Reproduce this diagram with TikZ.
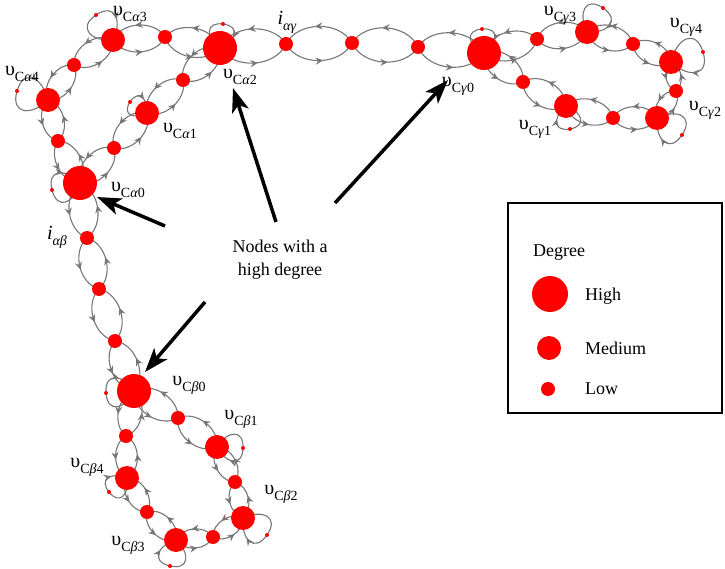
\documentclass[tikz,border=0pt]{standalone}
\usepackage{fontspec}
\setmainfont{Liberation Serif}
\usetikzlibrary{arrows.meta,decorations.markings}
\pgfdeclarelayer{bg}
\pgfsetlayers{bg,main}
\definecolor{edgegray}{RGB}{118,118,118}
\tikzset{
  hi/.style={circle,fill=red,inner sep=0pt,minimum size=34pt},
  me/.style={circle,fill=red,inner sep=0pt,minimum size=24pt},
  lo/.style={circle,fill=red,inner sep=0pt,minimum size=14pt},
  tipdot/.style={circle,fill=red,inner sep=0pt,minimum size=4pt},
  edge/.style={draw=edgegray,line width=1.1pt,postaction={decorate},
    decoration={markings,mark=at position 0.55 with {\arrow{Stealth[length=7.5pt,width=7pt,inset=2.5pt]}}}},
  lbl/.style={font=\fontsize{20}{22}\selectfont,inner sep=0pt},
  txt/.style={font=\fontsize{18}{23}\selectfont,inner sep=0pt},
  bigarrow/.style={line width=3.5pt,-{Stealth[length=24pt,width=17pt,inset=6pt]}},
}
\newcommand\vlab[2]{υ\raisebox{-6pt}{\fontsize{14}{14}\selectfont C\textit{#1}#2}}
\newcommand\ilab[1]{\textit{i}\raisebox{-6pt}{\fontsize{14}{14}\selectfont\textit{#1}}}
\newcommand\lens[2]{%
  \draw[edge] (#1.center) to[bend right=62] (#2.center);
  \draw[edge] (#2.center) to[bend right=62] (#1.center);}
\newcommand\selfloop[3]{%
  \pgfmathsetmacro\mySLa{#3+60}\pgfmathsetmacro\mySLb{#3+90}%
  \pgfmathsetmacro\mySLc{#3-90}\pgfmathsetmacro\mySLd{#3-60}%
  \draw[draw=edgegray,line width=1.1pt] (#1.center) to[out=\mySLa,in=\mySLb,looseness=1.9] (#2.center);
  \draw[edge] (#2.center) to[out=\mySLc,in=\mySLd,looseness=1.9] (#1.center);}
\begin{document}
\begin{tikzpicture}[x=1pt,y=1pt]
\useasboundingbox (0,0) rectangle (725,568);
% alpha cluster
\node[hi] (a0) at (80,385) {};
\node[me] (a1) at (147,455) {};
\node[hi] (a2) at (220,520) {};
\node[me] (a3) at (113,528) {};
\node[me] (a4) at (48,468) {};
\node[lo] (s01) at (114,420) {};
\node[lo] (s12) at (183,488) {};
\node[lo] (s32) at (165,531) {};
\node[lo] (s43) at (74,503) {};
\node[lo] (s04) at (58,427) {};
% top chain
\node[lo] (iag) at (286,524) {};
\node[lo] (t2) at (352,525) {};
\node[lo] (t3) at (418,521) {};
% gamma cluster
\node[hi] (g0) at (484,515) {};
\node[lo] (sg03) at (537,529) {};
\node[me] (g3) at (587,536) {};
\node[lo] (sg34) at (633,524) {};
\node[me] (g4) at (671,506) {};
\node[lo] (sg42) at (676,477) {};
\node[me] (g2) at (657,450) {};
\node[lo] (sg21) at (613,450) {};
\node[me] (g1) at (566,462) {};
\node[lo] (sg10) at (523,486) {};
% beta chain
\node[lo] (iab) at (87,330) {};
\node[lo] (m1) at (99,279) {};
\node[lo] (m2) at (115,227) {};
% beta cluster
\node[hi] (b0) at (134,177) {};
\node[lo] (sb01) at (178,150) {};
\node[me] (b1) at (217,121) {};
\node[lo] (sb12) at (235,86) {};
\node[me] (b2) at (243,50) {};
\node[lo] (sb23) at (213,31) {};
\node[me] (b3) at (176,28) {};
\node[lo] (sb34) at (147,56) {};
\node[me] (b4) at (127,90) {};
\node[lo] (sb40) at (126,132) {};
% loop tips
\node[tipdot] (ta3) at (96,553) {};
\node[tipdot] (ta4) at (17,477) {};
\node[tipdot] (ta1) at (130,466) {};
\node[tipdot] (ta0) at (52,378) {};
\node[tipdot] (ta2) at (223,544) {};
\node[tipdot] (tg0) at (482,539) {};
\node[tipdot] (tg3) at (603,560) {};
\node[tipdot] (tg4) at (703,516) {};
\node[tipdot] (tg2) at (682,433) {};
\node[tipdot] (tg1) at (570,439) {};
\node[tipdot] (tb0) at (106,175) {};
\node[tipdot] (tb1) at (243,120) {};
\node[tipdot] (tb4) at (109,76) {};
\node[tipdot] (tb2) at (267,33) {};
\node[tipdot] (tb3) at (170,2) {};
\begin{pgfonlayer}{bg}
\lens{a0}{s01}\lens{s01}{a1}\lens{a1}{s12}\lens{s12}{a2}\lens{a2}{s32}
\lens{s32}{a3}\lens{a3}{s43}\lens{s43}{a4}\lens{a4}{s04}\lens{s04}{a0}
\lens{a2}{iag}\lens{iag}{t2}\lens{t2}{t3}\lens{t3}{g0}
\lens{g0}{sg03}\lens{sg03}{g3}\lens{g3}{sg34}\lens{sg34}{g4}\lens{g4}{sg42}
\lens{sg42}{g2}\lens{g2}{sg21}\lens{sg21}{g1}\lens{g1}{sg10}\lens{sg10}{g0}
\lens{a0}{iab}\lens{iab}{m1}\lens{m1}{m2}\lens{m2}{b0}
\lens{b0}{sb01}\lens{sb01}{b1}\lens{b1}{sb12}\lens{sb12}{b2}\lens{b2}{sb23}
\lens{sb23}{b3}\lens{b3}{sb34}\lens{sb34}{b4}\lens{b4}{sb40}\lens{sb40}{b0}
\selfloop{a3}{ta3}{124}
\selfloop{a4}{ta4}{164}
\selfloop{a1}{ta1}{147}
\selfloop{a0}{ta0}{194}
\selfloop{a2}{ta2}{83}
\selfloop{g0}{tg0}{95}
\selfloop{g3}{tg3}{56}
\selfloop{g4}{tg4}{17}
\selfloop{g2}{tg2}{-34}
\selfloop{g1}{tg1}{-80}
\selfloop{b0}{tb0}{184}
\selfloop{b1}{tb1}{-2}
\selfloop{b4}{tb4}{218}
\selfloop{b2}{tb2}{-35}
\selfloop{b3}{tb3}{257}
\end{pgfonlayer}
% labels
\node[lbl] (la3) at (130,554) {\vlab{α}{3}};
\node[lbl] (la4) at (22,494) {\vlab{α}{4}};
\node[lbl] (la1) at (180,437) {\vlab{α}{1}};
\node[lbl] (la2) at (240,491) {\vlab{α}{2}};
\node[lbl] (la0) at (128,378) {\vlab{α}{0}};
\node[lbl] (liag) at (287,546) {\ilab{αγ}};
\node[lbl] (lg0) at (458,482) {\vlab{γ}{0}};
\node[lbl] (lg3) at (560,553) {\vlab{γ}{3}};
\node[lbl] (lg4) at (686,541) {\vlab{γ}{4}};
\node[lbl] (lg2) at (705,458) {\vlab{γ}{2}};
\node[lbl] (lg1) at (535,439) {\vlab{γ}{1}};
\node[lbl] (liab) at (57,331) {\ilab{αβ}};
\node[lbl] (lb0) at (189,183) {\vlab{β}{0}};
\node[lbl] (lb1) at (241,149) {\vlab{β}{1}};
\node[lbl] (lb2) at (281,74) {\vlab{β}{2}};
\node[lbl] (lb3) at (128,23) {\vlab{β}{3}};
\node[lbl] (lb4) at (87,101) {\vlab{β}{4}};
% annotation
\node[txt,align=center] (note) at (280,308) {Nodes with a\\high degree};
\coordinate (p1) at (276,346); \coordinate (q1) at (233,480);
\coordinate (p2) at (335,365); \coordinate (q2) at (448,488);
\coordinate (p3) at (165,342); \coordinate (q3) at (97,371);
\coordinate (p4) at (205,266); \coordinate (q4) at (145,196);
\draw[bigarrow] (p1) -- (q1);
\draw[bigarrow] (p2) -- (q2);
\draw[bigarrow] (p3) -- (q3);
\draw[bigarrow] (p4) -- (q4);
% legend
\node[draw,line width=2.5pt,minimum width=214pt,minimum height=210pt,inner sep=0pt] (legend) at (615,260) {};
\node[txt,anchor=west] (ldeg) at (533,315) {Degree};
\node[hi,minimum size=36pt] (lhi) at (550,274) {};
\node[me] (lme) at (549,220) {};
\node[lo] (llo) at (548,179) {};
\node[txt,anchor=west] (thi) at (585,272) {High};
\node[txt,anchor=west] (tme) at (585,220) {Medium};
\node[txt,anchor=west] (tlo) at (585,179) {Low};
\end{tikzpicture}
\end{document}
